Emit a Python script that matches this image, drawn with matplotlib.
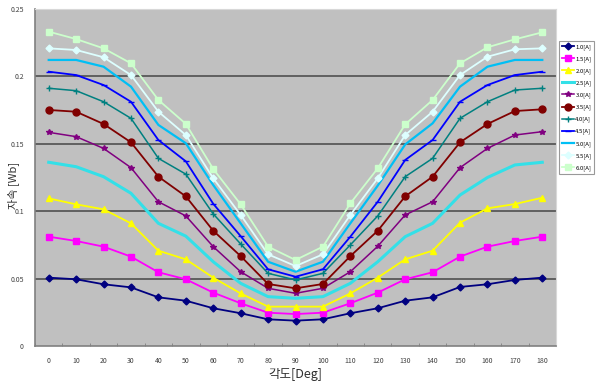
import numpy as np
import matplotlib
matplotlib.use('Agg')
import matplotlib.pyplot as plt
from matplotlib.ticker import FixedLocator

plt.rcParams['font.family'] = ['Noto Sans CJK KR', 'DejaVu Sans']

angles = list(range(0, 181, 10))

flux_10 = [0.0507, 0.0495, 0.0458, 0.0435, 0.0361, 0.0336, 0.0280, 0.0243, 0.0198, 0.0188,
           0.0198, 0.0243, 0.0280, 0.0336, 0.0361, 0.0438, 0.0458, 0.0490, 0.0507]
flux_15 = [0.0811, 0.0779, 0.0737, 0.0663, 0.0547, 0.0495, 0.0396, 0.0317, 0.0247, 0.0237,
           0.0247, 0.0317, 0.0396, 0.0495, 0.0547, 0.0663, 0.0737, 0.0779, 0.0811]
flux_20 = [0.1095, 0.1051, 0.1014, 0.0910, 0.0707, 0.0643, 0.0507, 0.0390, 0.0292, 0.0292,
           0.0292, 0.0390, 0.0507, 0.0643, 0.0707, 0.0915, 0.1021, 0.1053, 0.1100]
flux_25 = [0.1363, 0.1330, 0.1256, 0.1133, 0.0910, 0.0815, 0.0625, 0.0465, 0.0366, 0.0354,
           0.0366, 0.0465, 0.0625, 0.0811, 0.0910, 0.1120, 0.1250, 0.1343, 0.1363]
flux_30 = [0.1585, 0.1553, 0.1466, 0.1323, 0.1070, 0.0965, 0.0737, 0.0551, 0.0428, 0.0391,
           0.0428, 0.0551, 0.0740, 0.0972, 0.1070, 0.1323, 0.1466, 0.1565, 0.1590]
flux_35 = [0.1751, 0.1738, 0.1647, 0.1511, 0.1256, 0.1110, 0.0855, 0.0667, 0.0460, 0.0428,
           0.0460, 0.0667, 0.0855, 0.1110, 0.1256, 0.1511, 0.1647, 0.1743, 0.1756]
flux_40 = [0.1912, 0.1894, 0.1812, 0.1689, 0.1392, 0.1275, 0.0980, 0.0757, 0.0539, 0.0490,
           0.0539, 0.0750, 0.0965, 0.1256, 0.1392, 0.1689, 0.1812, 0.1899, 0.1912]
flux_45 = [0.2035, 0.2010, 0.1936, 0.1812, 0.1528, 0.1370, 0.1055, 0.0815, 0.0569, 0.0514,
           0.0569, 0.0811, 0.1070, 0.1380, 0.1528, 0.1812, 0.1936, 0.2010, 0.2035]
flux_50 = [0.2122, 0.2122, 0.2072, 0.1924, 0.1640, 0.1504, 0.1194, 0.0910, 0.0625, 0.0551,
           0.0625, 0.0910, 0.1190, 0.1495, 0.1652, 0.1924, 0.2072, 0.2122, 0.2122]
flux_55 = [0.2208, 0.2196, 0.2142, 0.2010, 0.1738, 0.1565, 0.1244, 0.0972, 0.0680, 0.0593,
           0.0680, 0.0972, 0.1244, 0.1565, 0.1738, 0.2010, 0.2146, 0.2201, 0.2208]
flux_60 = [0.2332, 0.2277, 0.2208, 0.2097, 0.1825, 0.1648, 0.1313, 0.1051, 0.0737, 0.0638,
           0.0737, 0.1058, 0.1318, 0.1644, 0.1825, 0.2097, 0.2216, 0.2275, 0.2327]

labels = ['1.0[A]', '1.5[A]', '2.0[A]', '2.5[A]', '3.0[A]', '3.5[A]',
          '4.0[A]', '4.5[A]', '5.0[A]', '5.5[A]', '6.0[A]']
series = [flux_10, flux_15, flux_20, flux_25, flux_30, flux_35,
          flux_40, flux_45, flux_50, flux_55, flux_60]

y_ticks = [0, 0.05, 0.1, 0.15, 0.2, 0.25]
y_ticklabels = ['0', '0.05', '0.1', '0.15', '0.2', '0.25']

# excel-like palette and marker cycle
colors = ['#000080', '#FF00FF', '#FFFF00', '#33E0E8', '#800080', '#800000',
          '#008080', '#0000FF', '#00BFF5', '#DDFFFF', '#CCFFCC']
markers = ['D', 's', '^', None, '*', 'o', '+', '_', None, 'D', 's']
msizes = [3.5, 4.5, 4.5, 0, 4, 5, 5, 4, 0, 3.5, 4.5]
widths = [1.3, 1.3, 1.3, 2.2, 1.1, 1.3, 1.1, 1.3, 1.6, 1.3, 1.3]

fig = plt.figure(figsize=(6, 3.82), dpi=100)
ax = fig.add_axes([35/600, 36/382, 521/600, 337/382])
ax.set_facecolor('#C0C0C0')

for ys, lab, c, m, ms, lw in zip(series, labels, colors, markers, msizes, widths):
    ax.plot(angles, ys, color=c, marker=m, markersize=ms, linewidth=lw,
            markeredgecolor=c, markerfacecolor=c, label=lab, zorder=3)

ax.set_xlim(-5, 185)
ax.set_ylim(0, 0.25)
ax.set_xticks(angles)
ax.xaxis.set_minor_locator(FixedLocator(np.arange(-5, 186, 10)))
ax.yaxis.set_major_locator(FixedLocator(y_ticks))
ax.set_yticklabels(y_ticklabels)

for yv in y_ticks[1:-1]:
    ax.axhline(yv, color='#505050', linewidth=1.2, zorder=1)

for side in ['top', 'right']:
    ax.spines[side].set_color('#D8D8D8')
for side in ['left', 'bottom']:
    ax.spines[side].set_color('#808080')
    ax.spines[side].set_linewidth(1.2)

ax.tick_params(axis='x', which='major', length=0, labelsize=5, colors='#404040', pad=8)
ax.tick_params(axis='x', which='minor', length=2, color='#808080', direction='in')
ax.tick_params(axis='y', length=0, labelsize=5, colors='#404040', pad=8)

ax.set_xlabel('각도[Deg]', fontsize=9, color='#303030', labelpad=2)
fig.text(13/600, 1 - 185/382, '자속 [Wb]', fontsize=8, color='#303030',
         rotation=90, ha='center', va='center')

leg = fig.legend(loc='upper left', bbox_to_anchor=(559/600, 1 - 41/382),
                 fontsize=4.3, frameon=True, fancybox=False, handlelength=2.0,
                 labelspacing=1.05, borderpad=0.5, borderaxespad=0, handletextpad=0.25)
leg.get_frame().set_edgecolor('#808080')
leg.get_frame().set_linewidth(0.8)

fig.savefig('out.png', dpi=100)
